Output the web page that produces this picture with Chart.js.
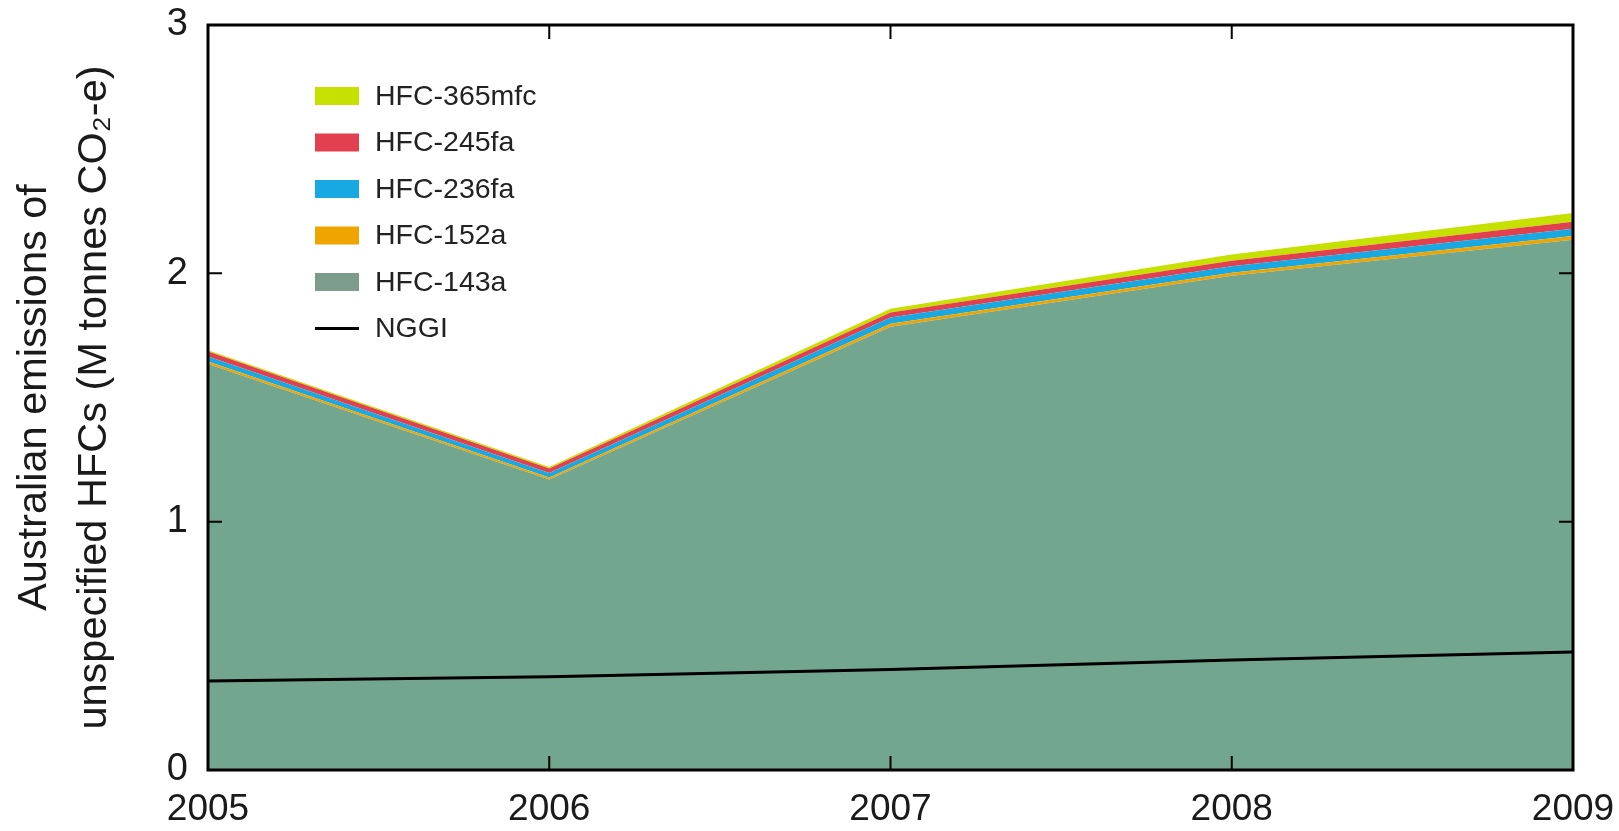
<!DOCTYPE html>
<html>
<head>
<meta charset="utf-8">
<script src="https://cdn.jsdelivr.net/npm/chart.js@4.4.1/dist/chart.umd.min.js"></script>
<style>
  html, body { margin: 0; padding: 0; background: #fff; }
  #wrap { width: 1619px; height: 831px; }
</style>
</head>
<body>
<div id="wrap"><canvas id="chart" width="1619" height="831"></canvas></div>
<script>
const years = ["2005", "2006", "2007", "2008", "2009"];
const yTicks = [0, 1, 2, 3];

// stacked HFC layers, bottom to top (M tonnes CO2-e)
const hfc143a = [1.635, 1.17, 1.785, 1.99, 2.135];
const hfc152a = [0.010, 0.008, 0.012, 0.012, 0.015];
const hfc236fa = [0.020, 0.018, 0.025, 0.027, 0.030];
const hfc245fa = [0.020, 0.018, 0.020, 0.022, 0.028];
const hfc365mfc = [0.005, 0.006, 0.015, 0.025, 0.035];

// national inventory line
const nggi = [0.358, 0.376, 0.405, 0.443, 0.475];

const sans = "'Liberation Sans', Arial, sans-serif";

function area(label, data, color, fill) {
  return {
    label: label,
    data: data,
    backgroundColor: color,
    borderColor: color,
    borderWidth: 0,
    pointRadius: 0,
    tension: 0,
    fill: fill,
    stack: "hfc",
    order: 1
  };
}

// inward ticks + frame
const framePlugin = {
  id: "frame",
  afterDraw(chart) {
    const ctx = chart.ctx;
    const a = chart.chartArea;
    const xs = chart.scales.x;
    const ys = chart.scales.y;
    const len = 14;
    ctx.save();
    ctx.strokeStyle = "#000";
    ctx.lineWidth = 2;
    ctx.beginPath();
    years.forEach((yr, i) => {
      const px = xs.getPixelForValue(i);
      ctx.moveTo(px, a.bottom); ctx.lineTo(px, a.bottom - len);
      ctx.moveTo(px, a.top); ctx.lineTo(px, a.top + len);
    });
    yTicks.forEach(v => {
      const py = ys.getPixelForValue(v);
      ctx.moveTo(a.left, py); ctx.lineTo(a.left + len, py);
      ctx.moveTo(a.right, py); ctx.lineTo(a.right - len, py);
    });
    ctx.stroke();
    ctx.lineWidth = 3;
    ctx.strokeRect(a.left, a.top, a.right - a.left, a.bottom - a.top);
    ctx.restore();
  }
};

// legend inside the plot, top-left: HFC layers top to bottom, then NGGI
const legendPlugin = {
  id: "insideLegend",
  afterDraw(chart) {
    const ctx = chart.ctx;
    const all = chart.data.datasets;
    const items = all.filter(ds => ds.stack === "hfc").reverse()
      .concat(all.filter(ds => ds.stack === "nggi"));
    const x0 = 315, sw = 44, sh = 18, tx = 375;
    let y = 96;
    ctx.save();
    ctx.font = "28.5px " + sans;
    ctx.textBaseline = "middle";
    items.forEach(ds => {
      if (ds.stack === "nggi") {
        ctx.strokeStyle = "#000";
        ctx.lineWidth = 3;
        ctx.beginPath();
        ctx.moveTo(x0, y); ctx.lineTo(x0 + sw, y);
        ctx.stroke();
      } else {
        ctx.fillStyle = ds.legendColor || ds.backgroundColor;
        ctx.fillRect(x0, y - sh / 2, sw, sh);
      }
      ctx.fillStyle = "#222";
      ctx.fillText(ds.label, tx, y + 1);
      y += 46.5;
    });
    ctx.restore();
  }
};

const layer143 = area("HFC-143a", hfc143a, "#73a68f", "origin");
layer143.legendColor = "#7c9c8c";

new Chart(document.getElementById("chart"), {
  type: "line",
  data: {
    labels: years,
    datasets: [
      layer143,
      area("HFC-152a", hfc152a, "#f0a400", "-1"),
      area("HFC-236fa", hfc236fa, "#18a8e2", "-1"),
      area("HFC-245fa", hfc245fa, "#e2404e", "-1"),
      area("HFC-365mfc", hfc365mfc, "#c6e000", "-1"),
      {
        label: "NGGI",
        data: nggi,
        borderColor: "#000",
        borderWidth: 3,
        pointRadius: 0,
        tension: 0,
        fill: false,
        stack: "nggi",
        order: 0
      }
    ]
  },
  options: {
    responsive: false,
    animation: false,
    layout: { padding: { top: 25, right: 46, left: 0, bottom: 0 } },
    plugins: {
      legend: { display: false },
      tooltip: { enabled: false }
    },
    scales: {
      x: {
        offset: false,
        grid: { display: false },
        border: { display: false },
        ticks: {
          color: "#1a1a1a",
          font: { family: sans, size: 37 },
          padding: 10,
          maxRotation: 0,
          autoSkip: false
        },
        afterFit(s) {
          s.height = 61;
          s.paddingLeft = 0;
          s.paddingRight = 0;
        }
      },
      y: {
        stacked: true,
        min: 0,
        max: 3,
        grid: { display: false },
        border: { display: false },
        ticks: {
          stepSize: 1,
          color: "#1a1a1a",
          font: { family: sans, size: 38 },
          padding: 12
        },
        title: {
          display: true,
          text: ["Australian emissions of", "unspecified HFCs (M tonnes CO\u2082-e)"],
          color: "#1a1a1a",
          font: { family: sans, size: 41.5, lineHeight: 1.45 },
          padding: { top: 4, bottom: 0 }
        },
        afterFit(s) {
          s.width = 208;
          s.paddingTop = 0;
          s.paddingBottom = 0;
        }
      }
    }
  },
  plugins: [framePlugin, legendPlugin]
});
</script>
</body>
</html>
